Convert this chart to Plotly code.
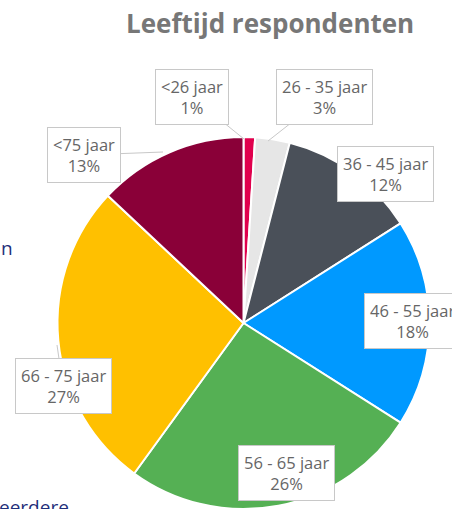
import plotly.graph_objects as go

labels = ["<26 jaar", "26 - 35 jaar", "36 - 45 jaar", "46 - 55 jaar", "56 - 65 jaar", "66 - 75 jaar", "<75 jaar"]
values = [1, 3, 12, 18, 26, 27, 13]
colors = ["#E0004D", "#E6E6E6", "#4A5059", "#0099FF", "#55B054", "#FFC000", "#8A0038"]

W, H = 452, 509

# label box centers (px) and optional tail target (px)
box_pos = [(192, 97), (324, 97), (385, 174), (412, 321), (286, 473), (63, 386), (84, 155)]
tails = [(244, 139), (268, 141), None, None, None, (57, 345), (163, 152)]

fig = go.Figure()
fig.add_trace(go.Pie(
    labels=labels, values=values, sort=False, direction="clockwise", rotation=0,
    marker=dict(colors=colors, line=dict(color="white", width=2)),
    textinfo="none", hoverinfo="label+percent", showlegend=False,
    domain=dict(x=[57.5 / W, 429.5 / W], y=[0, 1 - 137 / H]),
))

def px(x):
    return x / W

def py(y):
    return 1 - y / H

anns = []
for lab, val, (bx, by), tail in zip(labels, values, box_pos, tails):
    txt = lab.replace("<", "&lt;") + "<br>" + f"{val}%"
    common = dict(text=txt, xref="paper", yref="paper", bgcolor="white",
                  bordercolor="#C8C8C8", borderwidth=1, borderpad=5,
                  font=dict(family="Open Sans", size=16.5, color="#666666"),
                  align="center")
    if tail is None:
        anns.append(dict(x=px(bx), y=py(by), showarrow=False, xanchor="center", yanchor="middle", **common))
    else:
        tx, ty = tail
        anns.append(dict(x=px(tx), y=py(ty), showarrow=True, arrowhead=0, arrowwidth=1,
                         arrowcolor="#C8C8C8", ax=bx - tx, ay=by - ty, **common))

anns.append(dict(text="Leeftijd respondenten", x=px(270), y=py(23), xref="paper", yref="paper",
                 showarrow=False, xanchor="center", yanchor="middle",
                 font=dict(family="Open Sans", size=26, color="#777777", weight="bold")))
anns.append(dict(text="n", x=px(-1), y=py(248), xref="paper", yref="paper",
                 showarrow=False, xanchor="left", yanchor="middle",
                 font=dict(family="Open Sans", size=19, color="#1F2F7A")))
anns.append(dict(text="eerdere", x=px(-3), y=py(492), xref="paper", yref="paper",
                 showarrow=False, xanchor="left", yanchor="top",
                 font=dict(family="Open Sans", size=19, color="#1F2F7A")))

fig.update_layout(width=W, height=H, margin=dict(l=0, r=0, t=0, b=0),
                  paper_bgcolor="white", plot_bgcolor="white", annotations=anns)

fig.write_html("out.html")
